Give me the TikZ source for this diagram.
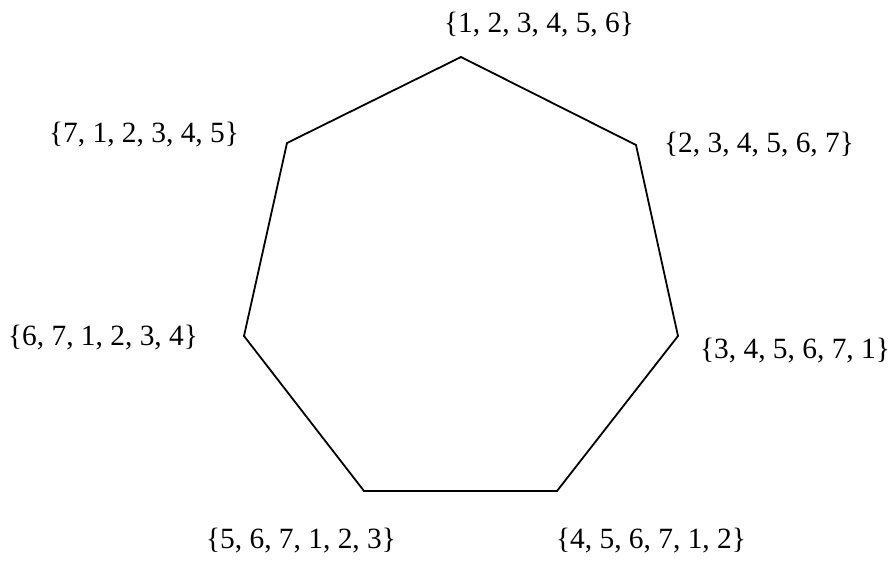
\documentclass[tikz,border=0pt]{standalone}
\usepackage{fontspec}
\setmainfont{Liberation Serif}
\begin{document}
\begin{tikzpicture}[x=1pt,y=-1pt,
  lbl/.style={anchor=base,inner sep=0pt,font=\fontsize{29.4}{33}\selectfont},
  edge/.style={draw=black,line width=1.8pt,line join=miter}]
\useasboundingbox (0,0) rectangle (892,560);
\coordinate (v1) at (461,57);
\coordinate (v2) at (636,145);
\coordinate (v3) at (678,336);
\coordinate (v4) at (557,491);
\coordinate (v5) at (364,491);
\coordinate (v6) at (244,336);
\coordinate (v7) at (287,143);
\draw[edge] (v1) -- (v2) -- (v3) -- (v4) -- (v5) -- (v6) -- (v7) -- cycle;
\node[lbl] (l1) at (539,32) {\{1, 2, 3, 4, 5, 6\}};
\node[lbl] (l2) at (759,152) {\{2, 3, 4, 5, 6, 7\}};
\node[lbl] (l3) at (795,358) {\{3, 4, 5, 6, 7, 1\}};
\node[lbl] (l4) at (651,548) {\{4, 5, 6, 7, 1, 2\}};
\node[lbl] (l5) at (301,548) {\{5, 6, 7, 1, 2, 3\}};
\node[lbl] (l6) at (103,345) {\{6, 7, 1, 2, 3, 4\}};
\node[lbl] (l7) at (144,142) {\{7, 1, 2, 3, 4, 5\}};
\end{tikzpicture}
\end{document}
